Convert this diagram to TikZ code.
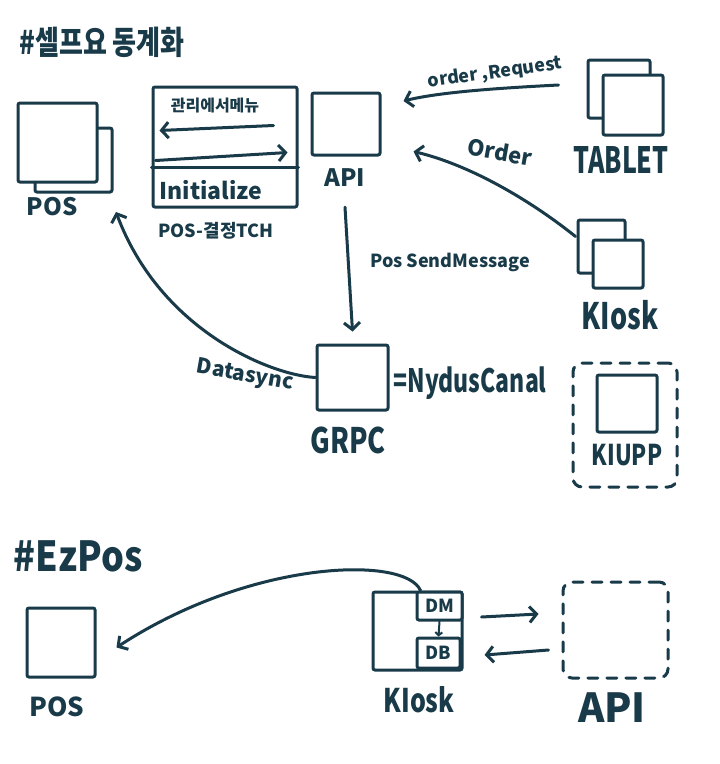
\documentclass[tikz,border=0pt]{standalone}
\usepackage{fontspec}
\usepackage{graphicx}
\newfontfamily\hw{Noto Sans CJK KR}
\usetikzlibrary{arrows.meta,calc}
\definecolor{ink}{RGB}{25,58,72}
\newcommand\fs[1]{\fontsize{#1}{#1}\selectfont}
\newcommand\tallt[2]{\scalebox{1}[#1]{#2}}
\tikzset{
  box/.style={draw=ink, line width=3pt, rounded corners=2pt, fill=white, inner sep=0pt},
  dbox/.style={draw=ink, line width=3pt, line cap=round, dash pattern=on 10pt off 9pt, rounded corners=9pt, inner sep=0pt},
  lbl/.style={text=ink, inner sep=0pt},
  con/.style={draw=ink, line width=3pt, line cap=round, line join=round},
  arr/.style={con, -{Straight Barb[length=7pt,width=16pt]}},
  sarr/.style={draw=ink, line width=2pt, line cap=round, -{Straight Barb[length=3pt,width=7pt]}}
}
\begin{document}
\begin{tikzpicture}[x=1pt,y=-1pt]
\useasboundingbox[fill=white] (0,0) rectangle (720,764);

% title
\node[lbl, font=\hw\bfseries\fs{26}] (title) at (102,42) {\tallt{1.25}{\#셀프요 동계화}};

% POS (top)
\node[box, minimum width=77pt, minimum height=64pt] (posback) at (73.5,160) {};
\node[box, minimum width=79pt, minimum height=79pt] (posfront) at (57.5,142.5) {};
\node[lbl, font=\hw\bfseries\fs{24}] (poslbl) at (52,207) {POS};

% initialize box
\node[box, minimum width=144pt, minimum height=120pt] (init) at (225,147) {};
\node[lbl, font=\hw\bfseries\fs{16}] (mgr) at (215,106) {관리에서메뉴};
\draw[arr] ($(init.north west)+(122,40)$) -- ($(init.north west)+(8,45)$);
\draw[arr] ($(init.north west)+(4,75)$) -- ($(init.north west)+(136,67)$);
\draw[con] ($(init.west)+(0,20)$) -- ($(init.east)+(0,20)$);
\node[lbl, font=\hw\bfseries\fs{23}] (initx) at (211,190) {Initialize};
\node[lbl, font=\hw\bfseries\fs{18}] (posk) at (216,231) {POS-결정TCH};

% API (top)
\node[box, minimum width=68pt, minimum height=62pt] (apitop) at (346,124) {};
\node[lbl, font=\hw\bfseries\fs{24}] (apilbl) at (345,178) {API};

% TABLET
\node[box, minimum width=62pt, minimum height=58pt] (tabback) at (619,89) {};
\node[box, minimum width=60pt, minimum height=60pt] (tabfront) at (633,105) {};
\node[lbl, font=\hw\bfseries\fs{25}] (tablbl) at (621,160) {\tallt{1.45}{TABLET}};

% KIOSK (top)
\node[box, minimum width=47pt, minimum height=53pt] (kioback) at (601.5,246.5) {};
\node[box, minimum width=50pt, minimum height=48pt] (kiofront) at (618,264) {};
\node[lbl, font=\hw\bfseries\fs{27}] (kiolbl) at (620,315) {\tallt{1.35}{KIosk}};

% GRPC
\node[box, minimum width=71pt, minimum height=65pt] (grpc) at (352.5,377.5) {};
\node[lbl, font=\hw\bfseries\fs{27}] (grpclbl) at (348,440) {\tallt{1.3}{GRPC}};
\node[lbl, font=\hw\bfseries\fs{23}] (nydus) at (470,383) {\tallt{1.4}{=NydusCanal}};

% KIUPP
\node[dbox, minimum width=104pt, minimum height=124pt] (kiupp) at (625,425) {};
\node[box, minimum width=60pt, minimum height=57pt] (kiuppin) at (627,403.5) {};
\node[lbl, font=\hw\bfseries\fs{22}] (kiupplbl) at (627,455) {\tallt{1.3}{KIUPP}};

% labels on connectors
\node[lbl, font=\hw\bfseries\fs{18}] (psm) at (450,262) {Pos SendMessage};
\node[lbl, font=\hw\bfseries\fs{18}, rotate=8] (ordreq) at (495,73) {order ,Request};
\node[lbl, font=\hw\bfseries\fs{22}, rotate=-10] (ord) at (500,152) {Order};
\node[lbl, font=\hw\bfseries\fs{21}, rotate=-10] (dsync) at (245,376) {Datasync};

% connectors (top)
\coordinate (dsend) at (116,212);
\draw[arr] (grpc.west) .. controls (270,375) and (160,330) .. (dsend);
\draw[arr] ($(apilbl.south)+(0,20)$) -- ($(grpc.north)+(0,-12)$);
\draw[arr] ($(tabback.west)+(-28,-4)$) .. controls (500,88) and (440,92) .. ($(apitop.east)+(22,-23)$);
\draw[arr] ($(kioback.west)+(-1,-10)$) .. controls (530,200) and (470,165) .. ($(apitop.south east)+(32,-5)$);

% bottom section
\node[lbl, font=\hw\bfseries\fs{36}] (ez) at (78,556) {\tallt{1.15}{\#EzPos}};
\node[box, minimum width=68pt, minimum height=69pt] (posbot) at (61,642.5) {};
\node[lbl, font=\hw\bfseries\fs{26}] (posbotlbl) at (57,707) {POS};

\node[box, minimum width=89pt, minimum height=78pt] (kbox) at (417.5,631) {};
\node[box, minimum width=45pt, minimum height=28pt, font=\hw\bfseries\fs{18}, text=ink] (dm) at (439.5,606) {DM};
\node[box, minimum width=43pt, minimum height=30pt, font=\hw\bfseries\fs{18}, text=ink] (db) at (438.5,653) {DB};
\draw[sarr] (dm.south) -- (db.north);
\node[lbl, font=\hw\bfseries\fs{25}] (kbotlbl) at (419,700) {\tallt{1.3}{KIosk}};

\node[dbox, minimum width=105pt, minimum height=96pt] (apidash) at (615.5,630) {};
\node[lbl, font=\hw\bfseries\fs{40}] (apibotlbl) at (612,708) {API};

\draw[arr] ($(dm.north west)+(5,0)$) .. controls (405,555) and (250,560) .. ($(posbot.east)+(20,5)$);
\draw[arr] ($(kbox.east)+(18,-14)$) -- ($(apidash.west)+(-23,-16)$);
\draw[arr] ($(apidash.west)+(-13,20)$) -- ($(kbox.east)+(21,24)$);
\end{tikzpicture}
\end{document}
